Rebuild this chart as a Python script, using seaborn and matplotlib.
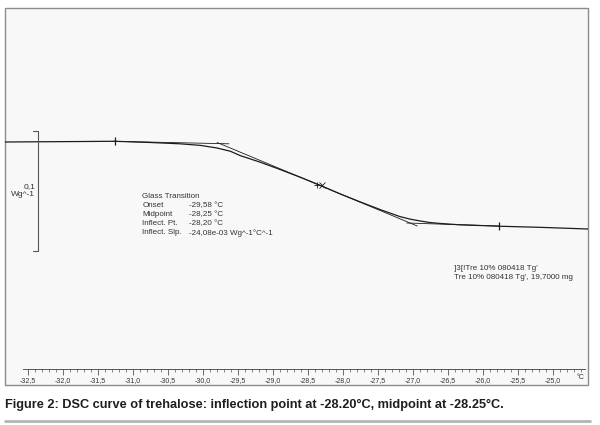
import numpy as np
import pandas as pd
import matplotlib
matplotlib.use("Agg")
import matplotlib.pyplot as plt
import matplotlib.patches as mpatches
from matplotlib import font_manager
from matplotlib.ticker import FixedLocator
import seaborn as sns

# ---------------- data ----------------
temperature = [-32.83, -32.33, -31.76, -31.26, -30.76, -30.33, -30.04, -29.80, -29.61,
               -29.47, -29.19, -28.90, -28.61, -28.34, -28.04, -27.76, -27.47,
               -27.19, -27.04, -26.90, -26.76, -26.61, -26.33, -26.04, -25.76, -25.19, -24.50]
heat_flow = [-0.3000, -0.2998, -0.2996, -0.2994, -0.3004, -0.3015, -0.3028, -0.3050, -0.3077,
             -0.3113, -0.3167, -0.3229, -0.3294, -0.3358, -0.3433, -0.3498, -0.3563,
             -0.3621, -0.3643, -0.3658, -0.3671, -0.3679, -0.3690, -0.3696, -0.3702, -0.3711, -0.3725]

upper_base_T = [-31.29, -29.63]
upper_base_HF = [-0.2994, -0.3015]
tangent_T = [-29.80, -26.94]
tangent_HF = [-0.3004, -0.3700]
lower_base_T = [-27.09, -25.77]
lower_base_HF = [-0.3675, -0.3700]

flag_T = [-31.26, -25.77]
flag_HF = [-0.2994, -0.3702]
inflect_T = -28.34
inflect_HF = -0.3358

major_ticks = [-32.5, -32.0, -31.5, -31.0, -30.5, -30.0, -29.5, -29.0,
               -28.5, -28.0, -27.5, -27.0, -26.5, -26.0, -25.5, -25.0]
tick_labels = ["-32,5", "-32,0", "-31,5", "-31,0", "-30,5", "-30,0", "-29,5", "-29,0",
               "-28,5", "-28,0", "-27,5", "-27,0", "-26,5", "-26,0", "-25,5", "-25,0"]

gt_labels = ["Onset", "Midpoint", "Inflect. Pt.", "Inflect. Slp."]
gt_values = ["-29,58 °C", "-28,25 °C", "-28,20 °C", "-24,08e-03 Wg^-1°C^-1"]
legend_lines = ["]3[!Tre 10% 080418 Tg'", "Tre 10% 080418 Tg', 19,7000 mg"]
caption = "Figure 2: DSC curve of trehalose: inflection point at -28.20°C, midpoint at -28.25°C."

# ---------------- style ----------------
sns.set_theme(style="white")
names = {f.name for f in font_manager.fontManager.ttflist}
chart_font = "Liberation Sans" if "Liberation Sans" in names else "DejaVu Sans"
caption_font = "Liberation Sans Narrow" if "Liberation Sans Narrow" in names else chart_font
plt.rcParams["font.family"] = [chart_font, "DejaVu Sans"]

W, H = 600, 425
fig = plt.figure(figsize=(6, 4.25), dpi=100)
fig.patch.set_facecolor("white")

# frame (screenshot border)
fx0, fy0, fx1, fy1 = 5, 8, 588, 385
frame = mpatches.Rectangle((fx0 / W, 1 - fy1 / H), (fx1 - fx0) / W, (fy1 - fy0) / H,
                           transform=fig.transFigure, facecolor="#f8f8f8",
                           edgecolor="#8c8c8c", lw=1.0, zorder=-5)
fig.patches.append(frame)

ax = fig.add_axes([fx0 / W, 1 - fy1 / H, (fx1 - fx0) / W, (fy1 - fy0) / H])
ax.set_zorder(5)
ax.set_facecolor("none")
ax.patch.set_alpha(0)
ax.set_xlim(-32.83, -24.50)
ax.set_ylim(-0.5025, -0.18833)

line_col = "#1c1c1c"
txt_col = "#333333"
df = pd.DataFrame({"T": temperature, "HF": heat_flow})
sns.lineplot(data=df, x="T", y="HF", ax=ax, color=line_col, lw=0.9, sort=False)
sns.lineplot(x=upper_base_T, y=upper_base_HF, ax=ax, color=line_col, lw=0.6)
sns.lineplot(x=tangent_T, y=tangent_HF, ax=ax, color=line_col, lw=0.6)
sns.lineplot(x=lower_base_T, y=lower_base_HF, ax=ax, color=line_col, lw=0.6)

ax.plot(flag_T, flag_HF, ls="none", marker="|", ms=6, mew=0.9, color=line_col)
ax.plot([inflect_T - 0.03], [inflect_HF], ls="none", marker="+", ms=5, mew=0.6, color=line_col)
ax.plot([inflect_T + 0.04], [inflect_HF], ls="none", marker="x", ms=4, mew=0.6, color=line_col)

# scale bracket 0,1 W/g
bx, btick = -32.357, -32.43
b_top, b_bot = -0.29083, -0.39083
ax.plot([btick, bx, bx, btick], [b_top, b_top, b_bot, b_bot], color="#555555", lw=0.8)
ax.text(-32.40, (b_top + b_bot) / 2 + 0.0005, "0,1\nWg^-1", ha="right", va="center",
        fontsize=6, color=txt_col, linespacing=1.3, multialignment="right")

# glass transition annotation
fs = 5.8
ax.text(-30.87, -0.3458, "Glass Transition", fontsize=fs, color=txt_col, va="center")
for i, (lab, val) in enumerate(zip(gt_labels, gt_values)):
    yy = -0.3533 - i * 0.0075
    ax.text(-30.87, yy, lab, fontsize=fs, color=txt_col, va="center")
    ax.text(-30.20, yy, val, fontsize=fs, color=txt_col, va="center")

for i, s in enumerate(legend_lines):
    ax.text(-26.41, -0.4058 - i * 0.0075, s, fontsize=fs, color=txt_col, va="center")

# x axis inside the frame
for s in ["top", "left", "right"]:
    ax.spines[s].set_visible(False)
ax.spines["bottom"].set_position(("data", -0.48917))
ax.spines["bottom"].set_bounds(-32.57, -24.54)
ax.spines["bottom"].set_color("#555555")
ax.spines["bottom"].set_linewidth(0.7)
ax.set_yticks([])
ax.set_xticks(major_ticks)
ax.set_xticklabels(tick_labels)
ax.xaxis.set_minor_locator(FixedLocator(np.round(np.arange(-32.5, -24.55, 0.1), 2)))
ax.tick_params(axis="x", which="major", direction="out", length=4, width=0.6,
               color="#555555", labelsize=5.0, labelcolor=txt_col, pad=1.8, bottom=True)
ax.tick_params(axis="x", which="minor", direction="out", length=2.5, width=0.5,
               color="#555555", bottom=True)
ax.set_xlabel("")
ax.set_ylabel("")
ax.text(-24.61, -0.4962, "°C", fontsize=5.0, color=txt_col, ha="center", va="center")

# caption and rule line
fig.text(5 / W, 1 - 405 / H, caption, fontsize=9.2, fontweight="bold",
         family=[caption_font, "DejaVu Sans"], color="#1e1e1e", va="center", ha="left")
fig.add_artist(plt.Line2D([5 / W, 590 / W], [1 - 421 / H, 1 - 421 / H],
                          transform=fig.transFigure, color="#b4b4b4", lw=2))

fig.savefig("out.png", dpi=100, facecolor="white")
